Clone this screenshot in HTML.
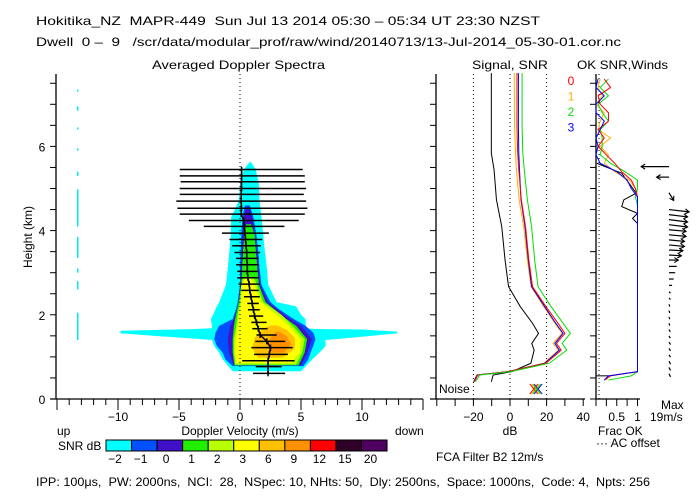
<!DOCTYPE html>
<html><head><meta charset="utf-8"><style>
html,body{margin:0;padding:0;background:#fff;}
svg{display:block;font-family:"Liberation Sans",sans-serif;}
text{fill:#000;font-size:12px;white-space:pre;}
</style></head>
<body>
<svg id="chart" width="700" height="500" viewBox="0 0 700 500" xml:space="preserve">
<rect width="700" height="500" fill="#fff"/>
<text x="36" y="25" font-size="13" textLength="504" lengthAdjust="spacingAndGlyphs">Hokitika_NZ  MAPR-449  Sun Jul 13 2014 05:30 – 05:34 UT 23:30 NZST</text>
<text x="36" y="46" font-size="12" textLength="585" lengthAdjust="spacingAndGlyphs">Dwell  0 –  9   /scr/data/modular_prof/raw/wind/20140713/13-Jul-2014_05-30-01.cor.nc</text>
<text x="152" y="69" textLength="173" lengthAdjust="spacingAndGlyphs">Averaged Doppler Spectra</text>
<text x="472" y="69" textLength="76" lengthAdjust="spacingAndGlyphs">Signal, SNR</text>
<text x="577" y="69" textLength="91" lengthAdjust="spacingAndGlyphs">OK SNR,Winds</text>
<g id="main"></g>
<g id="mid"></g>
<g id="right"></g>
<g id="bar"></g>
<text x="36" y="486" textLength="614" lengthAdjust="spacingAndGlyphs">IPP: 100μs,  PW: 2000ns,  NCI:  28,  NSpec: 10, NHts: 50,  Dly: 2500ns,  Space: 1000ns,  Code: 4,  Npts: 256</text>
</svg>
<script>
// ---------- data ----------
const contourColors = ["#00ffff","#0050ff","#4010c8","#20f000","#b8ff00","#ffff00","#ffc000","#ff9000"];
const contourCyan   = [[0.66,-0.6,5.0],[0.94,-1.42,5.92],[1.10,-1.7,6.5],[1.26,-2.11,7.02],[1.40,-2.3,7.0],[1.58,-2.3,5.6],[1.74,-2.3,5.4],[1.90,-2.39,5.36],[2.0,-2.2,5.0],[2.2,-1.9,4.6],[2.30,-1.7,3.0],[2.71,-1.15,2.31],[3.11,-1.0,2.2],[3.51,-0.87,2.04],[3.91,-0.75,1.9],[4.31,-0.73,1.76],[4.71,-0.1,1.6],[5.11,0.0,1.54],[5.45,0.3,1.3],[5.63,0.8,0.9]];
const contourBlue   = [[0.78,-0.6,5.2],[0.94,-1.2,5.6],[1.10,-1.42,5.78],[1.26,-1.9,6.0],[1.42,-2.11,6.19],[1.58,-2.0,6.0],[1.74,-1.7,5.36],[1.90,-0.6,4.4],[2.14,-0.32,3.15],[2.30,-0.2,2.5],[2.71,0.0,1.76],[3.11,0.0,1.6],[3.51,0.05,1.5],[3.91,0.1,1.34],[4.31,0.2,1.1],[4.6,0.4,0.8]];
const contourPurple = [[0.8,-0.5,5.0],[1.1,-0.9,5.5],[1.42,-1.0,5.9],[1.74,-0.8,5.0],[1.9,-0.5,4.1],[2.3,-0.1,2.3],[2.71,0.05,1.65],[3.51,0.15,1.4],[4.31,0.3,1.0],[4.55,0.5,0.8]];
const contourGreen  = [[0.8,-0.45,4.8],[1.1,-0.6,5.3],[1.42,-0.6,5.5],[1.74,-0.5,4.6],[1.9,-0.4,3.8],[2.3,-0.1,2.1],[2.71,0.1,1.55],[3.51,0.25,1.3],[3.91,0.35,1.2],[4.15,0.5,0.9]];
const contourLime   = [[0.82,-0.4,4.6],[1.1,-0.5,5.1],[1.42,-0.5,5.3],[1.74,-0.3,4.3],[2.0,-0.2,3.4],[2.3,0.0,1.9],[2.71,0.1,1.4],[2.9,0.3,1.1]];
const contourYellow = [[0.86,-0.3,4.2],[1.1,-0.4,4.9],[1.42,-0.35,5.0],[1.74,-0.2,4.0],[2.0,-0.1,3.0],[2.3,0.1,1.7],[2.71,0.15,1.2],[2.85,0.4,0.9]];
const contourLtOrange = [[0.98,1.5,3.5],[1.2,1.0,4.5],[1.45,1.2,4.5],[1.65,1.8,3.8],[1.75,2.5,3.0]];
const contourOrange = [[1.1,2.5,3.6],[1.3,2.2,4.2],[1.5,2.6,3.8],[1.6,3.0,3.2]];
const bandV   = [-9.8,-7,-4,-2.3,0,4,7,10,12.9];
const bandTop = [1.62,1.64,1.66,1.68,1.68,1.68,1.66,1.65,1.60];
const bandBot = [1.56,1.50,1.44,1.40,1.40,1.40,1.40,1.48,1.56];
const noiseLineSegs = [[1.4,2.05],[2.6,2.8],[3.0,3.1],[3.35,3.85],[4.1,4.98],[5.3,5.4],[5.9,5.95],[6.4,6.45],[6.85,6.95],[7.3,7.35]];
const widthH  = [5.45,5.30,5.16,5.00,4.86,4.70,4.53,4.39,4.24,4.10,3.94,3.79,3.64,3.48,3.34,3.19,3.03,2.88,2.73,2.58,2.43,2.27,2.12,1.97,1.82,1.67,1.52,1.37,1.22,1.06,0.91,0.77,0.61];
const widthL  = [-4.94,-4.94,-4.86,-4.94,-4.94,-5.22,-5.13,-4.94,-4.19,-2.97,-1.48,-0.87,-0.65,-0.45,-0.32,-0.32,-0.23,-0.23,-0.12,0.10,0.32,0.60,0.65,0.74,0.93,1.01,1.35,1.26,0.93,1.15,0.18,1.29,1.07];
const widthR  = [5.14,5.31,5.31,5.42,5.23,5.42,5.53,5.31,4.81,3.64,2.37,1.82,1.71,1.65,1.54,1.54,1.48,1.54,1.62,1.54,1.62,1.54,1.62,1.90,2.17,2.26,3.01,3.70,4.31,3.92,4.48,3.42,3.70];
const meanV   = [0.13,0.13,0.12,0.12,0.1,0.1,0.12,0.1,0.3,0.35,0.4,0.45,0.5,0.55,0.55,0.6,0.6,0.65,0.75,0.8,0.9,1.0,1.1,1.2,1.35,1.5,1.65,2.2,2.5,2.4,2.3,2.3,2.3];
const velTicks = [-10,-5,0,5,10];
const hTicks = [0,2,4,6];
// signal panel
const sigH     = [7.74,6.47,5.84,5.44,4.73,4.09,3.30,2.67,2.19,1.80,1.56,1.32,1.16,0.85,0.65,0.57,0.41];
const sigNoise = [-10.2,-10.2,-10.2,-8.7,-7.4,-4.5,-2.7,-0.8,5.7,12.3,15.6,11.9,13.2,11.4,1.0,-9.2,-10.2];
const snr0 = [3.8,3.8,4.2,4.8,6.2,8.5,10.3,12.3,19.7,26.2,30.0,25.4,28.0,19.7,-0.8,-17.6,-19.5];
const snr1 = [2.3,2.5,3.0,3.5,5.0,7.5,9.5,11.5,18.5,24.5,28.5,23.5,26.5,18.5,-1.5,-18.0,-20.0];
const snr2 = [6.6,6.6,7.0,7.8,9.5,11.8,13.5,15.3,22.5,29.0,33.0,28.5,31.0,21.5,0.5,-16.5,-19.0];
const snr3 = [4.6,4.6,4.8,5.2,6.0,8.2,10.0,11.8,19.0,25.0,29.0,24.5,27.0,19.0,-1.2,-18.0,-19.8];
const snrColors = ["#ff0000","#ffb000","#00e000","#0000ff"];
const dbTicks = [-20,0,20,40];
const dbDotted = [-20,0,20];
// frac OK panel
const fracH  = [7.6,7.4,7.2,7.0,6.8,6.6,6.4,6.2,6.0,5.8,5.6,5.4,5.2,5.0,4.8,4.6,0.65,0.55,0.45];
const frac0  = [0.2,0.35,0.05,0.1,0.3,0.3,0.05,0.2,0.05,0.25,0.45,0.62,0.85,0.95,1.0,1.0,1.0,0.35,0.2];
const frac1  = [0.1,0.05,0.15,0.0,0.2,0.1,0.05,0.35,0.1,0.3,0.2,0.45,0.8,0.95,1.0,1.0,1.0,0.3,0.25];
const frac2  = [0.3,0.1,0.3,0.05,0.15,0.3,0.1,0.15,0.15,0.1,0.35,0.7,1.0,1.0,0.95,1.0,1.0,0.85,0.3];
const frac3  = [0.05,0.0,0.2,0.0,0.0,0.2,0.1,0.0,0.05,0.0,0.1,0.5,0.75,0.85,1.0,1.0,1.0,0.3,0.2];
const fracTotH = [5.6,5.36,4.89,4.73,4.57,4.41,4.29,4.17];
const fracTot  = [0.02,0.62,0.97,0.67,0.62,1.0,0.88,1.0];
const fracTotLowH = [0.55,0.55];
const fracTotLow  = [0.0,0.3];
const windH = [5.52,5.27,4.9,4.5,4.38,4.26,4.14,4.02,3.9,3.78,3.66,3.54,3.42,3.3,3.15,3.0,2.85,2.7,2.55,2.4,2.25,2.1,1.95,1.8,1.65,1.5,1.35,1.2,1.05,0.9,0.75,0.6];
const windU = [-18,-8,3,13,12,12,12,11,11,10,10,9,8,6,5,4,3,2,1,1,0.5,0.5,0.5,0.5,0.8,0.8,1,1,1,1,1,1];
const windV = [0,0,-5,-1.5,-1.5,-1.5,-1.5,-1,-1,-1,-1,-0.5,-0.5,0,0,0,0,0,-1,-1,-1.5,-1.5,-1.5,-1.5,-1.5,-1.5,-1.5,-1.5,-1.5,-2,-2,-2];
const barLabels = ["-2","-1","0","1","2","3","6","9","12","15","20"];
const barColors = ["#00ffff","#0050ff","#4010c8","#20f000","#b8ff00","#ffff00","#ffc000","#ff9000","#ff0000","#300028","#500060"];

// ---------- helpers ----------
const NS="http://www.w3.org/2000/svg";
function mk(tag,parent,attrs){const e=document.createElementNS(NS,tag);for(const k in attrs)e.setAttribute(k,attrs[k]);parent.appendChild(e);return e;}
const xs=v=>240+12.2*v, ys=h=>399-42.1*h;
const xd=d=>510+1.83*d, xf=f=>596+41.5*f;
const main=document.getElementById('main'), mid=document.getElementById('mid'), right=document.getElementById('right'), bar=document.getElementById('bar');

// ---------- spectra ----------
function contour(lv,color,name){
  let pts=lv.map(r=>xs(r[1])+','+ys(r[0]));
  pts=pts.concat(lv.slice().reverse().map(r=>xs(r[2])+','+ys(r[0])));
  const p=mk('polygon',main,{points:pts.join(' '),fill:color});
  
  
}
contour(contourCyan,contourColors[0],'contour-snr-minus2');
{
  let pts=bandV.map((v,i)=>xs(v)+','+ys(bandTop[i]));
  pts=pts.concat(bandV.map((v,i)=>xs(v)+','+ys(bandBot[i])).reverse());
  const p=mk('polygon',main,{points:pts.join(' '),fill:contourColors[0]});
  
  
}
contour(contourBlue,contourColors[1],'contour-snr-minus1');
contour(contourPurple,contourColors[2],'contour-snr-0');
contour(contourGreen,contourColors[3],'contour-snr-1');
contour(contourLime,contourColors[4],'contour-snr-2');
contour(contourYellow,contourColors[5],'contour-snr-3');
contour(contourLtOrange,contourColors[6],'contour-snr-6');
contour(contourOrange,contourColors[7],'contour-snr-9');
noiseLineSegs.forEach(s=>{
  const l=mk('line',main,{x1:xs(-13.3),x2:xs(-13.3),y1:ys(s[0]),y2:ys(s[1]),stroke:'#00e8f0','stroke-width':1.5});
  
  
});
{const l=mk('line',main,{x1:240,x2:240,y1:74,y2:399,stroke:'#000','stroke-dasharray':'1,3'});
}
widthH.forEach((h,i)=>{
  const l=mk('line',main,{x1:xs(widthL[i]),x2:xs(widthR[i]),y1:ys(h),y2:ys(h),stroke:'#000','stroke-width':1.5});
  
  
  const t=mk('line',main,{x1:xs(meanV[i]),x2:xs(meanV[i]),y1:ys(h)-3,y2:ys(h)+3,stroke:'#000','stroke-width':1.5});
  
  
});
{const p=mk('polyline',main,{points:widthH.map((h,i)=>xs(meanV[i])+','+ys(h)).join(' '),fill:'none',stroke:'#000','stroke-width':1.5});
}
mk('line',main,{x1:56,x2:56,y1:74,y2:399,stroke:'#000','stroke-width':1.3});
mk('line',main,{x1:50,x2:423,y1:399,y2:399,stroke:'#000','stroke-width':1.3});
for(let h=0;h<=7.5;h+=0.5) mk('line',main,{x1:50,x2:56,y1:ys(h),y2:ys(h),stroke:'#000'});
for(let v=-15;v<=15;v++) mk('line',main,{x1:xs(v),x2:xs(v),y1:399,y2:v%5===0?410:405,stroke:'#000'});
hTicks.forEach(h=>{const t=mk('text',main,{x:42,y:ys(h)+5,'text-anchor':'middle'});t.textContent=h;
});
velTicks.forEach(v=>{const t=mk('text',main,{x:xs(v),y:421,'text-anchor':'middle'});t.textContent=(v<0?'−':'')+Math.abs(v);
});
{const t=mk('text',main,{x:0,y:0,transform:'translate(32,237) rotate(-90)','text-anchor':'middle','font-size':11});t.textContent='Height (km)';
}
{const t=mk('text',main,{x:240,y:435,'text-anchor':'middle','font-size':11});t.textContent='Doppler Velocity (m/s)';
}
{const t=mk('text',main,{x:57,y:435,'font-size':11});t.textContent='up';}
{const t=mk('text',main,{x:395,y:435,'font-size':11});t.textContent='down';}

// ---------- signal panel ----------
mk('line',mid,{x1:436,x2:436,y1:74,y2:399,stroke:'#000','stroke-width':1.3});
mk('line',mid,{x1:430,x2:585,y1:399,y2:399,stroke:'#000','stroke-width':1.3});
for(let h=0;h<=7.5;h+=0.5) mk('line',mid,{x1:430,x2:436,y1:ys(h),y2:ys(h),stroke:'#000'});
for(let d=-40;d<=40;d+=10) mk('line',mid,{x1:xd(d),x2:xd(d),y1:399,y2:406,stroke:'#000'});
dbDotted.forEach(d=>{
  const l=mk('line',mid,{x1:xd(d),x2:xd(d),y1:74,y2:399,stroke:'#000','stroke-dasharray':'1,3'});
  
  
});
dbTicks.forEach(d=>{
  const t=mk('text',mid,{x:xd(d),y:421,'text-anchor':'middle'});t.textContent=(d<0?'−':'')+Math.abs(d);
  
});
{const t=mk('text',mid,{x:510,y:435,'text-anchor':'middle','font-size':11});t.textContent='dB';}
{const p=mk('polyline',mid,{points:sigH.map((h,i)=>xd(sigNoise[i])+','+ys(h)).join(' '),fill:'none',stroke:'#000'});
}
[snr1,snr3,snr0,snr2].forEach((s,k)=>{
  const idx=[1,3,0,2][k];
  const p=mk('polyline',mid,{points:sigH.map((h,i)=>xd(s[i])+','+ys(h)).join(' '),fill:'none',stroke:snrColors[idx]});
  
  
  const t=mk('text',mid,{x:571,y:85+idx*15.5,'text-anchor':'middle',style:'fill:'+snrColors[idx]});t.textContent=idx;
  
  
  const cx=xd(13+idx*0.8), cy=389;
  mk('path',mid,{d:`M${cx-4},${cy-5}L${cx+4},${cy+5}M${cx+4},${cy-5}L${cx-4},${cy+5}`,stroke:snrColors[idx],fill:'none'});
});
{const t=mk('text',mid,{x:439,y:393,'font-size':11});t.textContent='Noise';}
{const t=mk('text',mid,{x:436,y:461,'font-size':11});t.textContent='FCA Filter B2 12m/s';}

// ---------- frac / winds panel ----------
mk('line',right,{x1:596,x2:596,y1:74,y2:399,stroke:'#000','stroke-width':1.3});
mk('line',right,{x1:596,x2:640,y1:399,y2:399,stroke:'#000','stroke-width':1.3});
mk('line',right,{x1:599,x2:599,y1:74,y2:399,stroke:'#000','stroke-dasharray':'1,3'});
for(let h=0;h<=7.5;h+=0.5) mk('line',right,{x1:590,x2:596,y1:ys(h),y2:ys(h),stroke:'#000'});
for(let f=0;f<=1.001;f+=0.25) mk('line',right,{x1:xf(f),x2:xf(f),y1:399,y2:406,stroke:'#000'});
[[0.5,'0.5'],[1,'1']].forEach(a=>{const t=mk('text',right,{x:xf(a[0]),y:421,'text-anchor':'middle'});t.textContent=a[1];
});
{const p=mk('polyline',right,{points:fracTotH.map((h,i)=>xf(fracTot[i])+','+ys(h)).join(' '),fill:'none',stroke:'#000'});
}
{const p=mk('polyline',right,{points:fracTotLowH.map((h,i)=>xf(fracTotLow[i])+','+ys(h)).join(' '),fill:'none',stroke:'#000'});
}
[frac1,frac2,frac0,frac3].forEach((s,k)=>{
  const idx=[1,2,0,3][k];
  const p=mk('polyline',right,{points:fracH.map((h,i)=>xf(s[i])+','+ys(h)).join(' '),fill:'none',stroke:snrColors[idx]});
  
  
});
windH.forEach((h,i)=>{
  const x0=669,y0=ys(h),x1=x0+windU[i]*1.55,y1=y0-windV[i]*1.55;
  const l=mk('line',right,{x1:x0,y1:y0,x2:x1,y2:y1,stroke:'#000','stroke-width':1.2});
  
  
  const len=Math.hypot(x1-x0,y1-y0);
  if(len>8){const ux=(x1-x0)/len,uy=(y1-y0)/len;
    mk('path',right,{d:`M${x1-ux*4-uy*2.5},${y1-uy*4+ux*2.5}L${x1},${y1}L${x1-ux*4+uy*2.5},${y1-uy*4-ux*2.5}`,fill:'none',stroke:'#000','stroke-width':1.1});}
});
{const t=mk('text',right,{x:661,y:409,'font-size':11});t.textContent='Max';}
{const t=mk('text',right,{x:650,y:421,'font-size':11});t.textContent='19m/s';}
{const t=mk('text',right,{x:598,y:435,'font-size':11});t.textContent='Frac OK';}
{const t=mk('text',right,{x:596,y:447,'font-size':11});t.textContent='··· AC offset';}

// ---------- colorbar ----------
{const t=mk('text',bar,{x:58,y:450,'font-size':11});t.textContent='SNR dB';}
barColors.forEach((c,i)=>{
  const x=106+i*25.55;
  const r=mk('rect',bar,{x:x,y:440,width:25.55,height:11,fill:c,stroke:'#000','stroke-width':1});
  
  
  const t=mk('text',bar,{x:x+9,y:463,'text-anchor':'middle','font-size':11});t.textContent=barLabels[i].replace('-','−');
  
  
});
</script>
</body></html>
